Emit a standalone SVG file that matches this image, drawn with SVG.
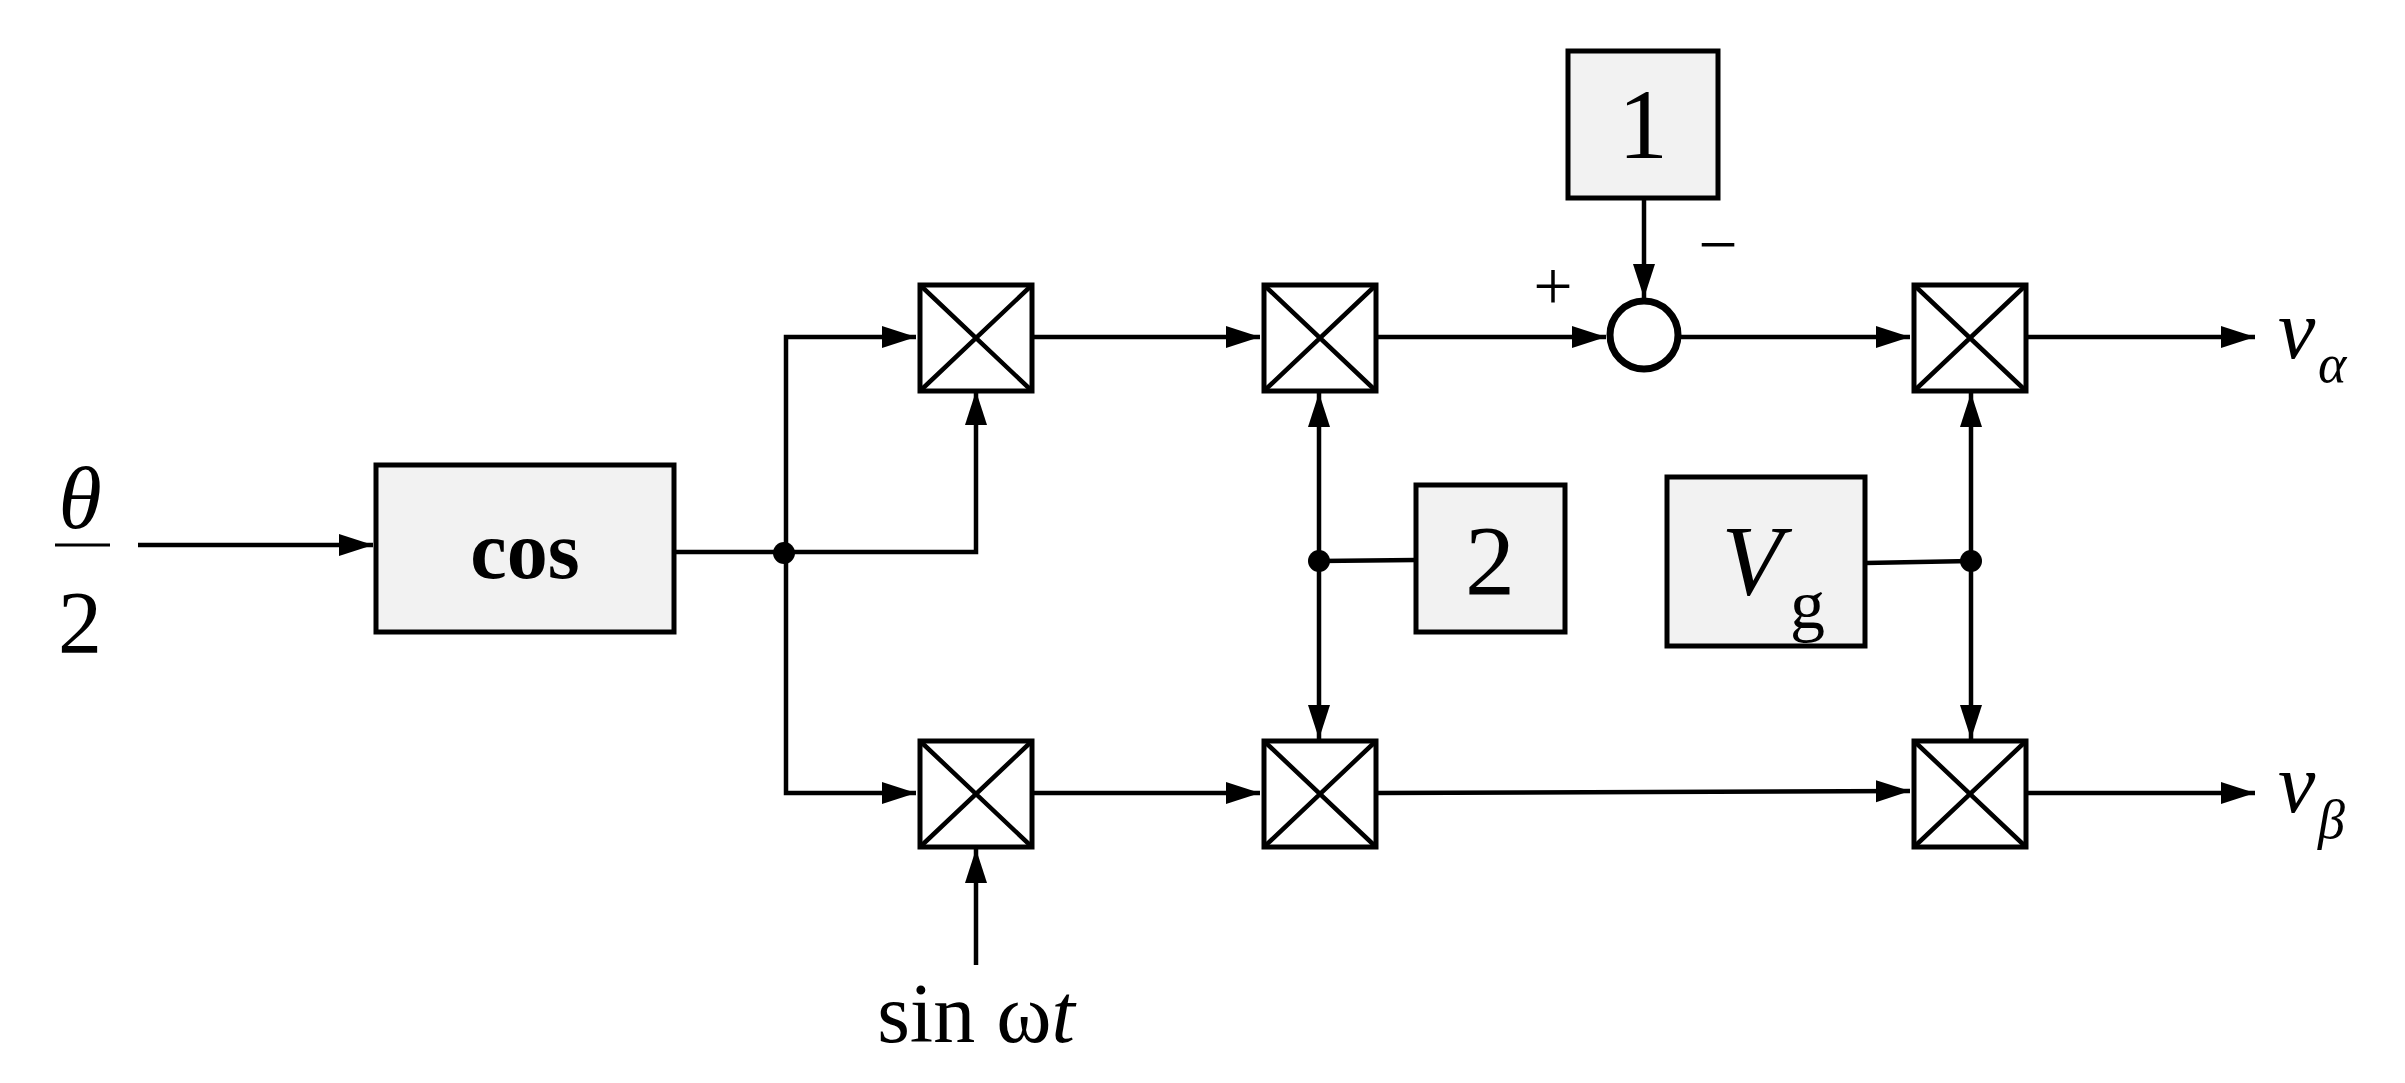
<svg xmlns="http://www.w3.org/2000/svg" width="2405" height="1083" viewBox="0 0 2405 1083">
<style>
.b{fill:#f2f2f2;stroke:#000;stroke-width:5}
.m{fill:#fff;stroke:#000;stroke-width:5}
.l{fill:none;stroke:#000;stroke-width:4.5}
.t{font-family:"Liberation Serif",serif;fill:#000}
</style>
<defs>
<marker id="ar" viewBox="0 0 34 24" refX="34" refY="12" markerWidth="34" markerHeight="24" markerUnits="userSpaceOnUse" orient="auto-start-reverse">
<path d="M0,1 L34,12 L0,23 z" fill="#000"/>
</marker>
</defs>
<g id="connectors">
<line class="l" x1="138" y1="545" x2="373" y2="545" marker-end="url(#ar)"/>
<polyline class="l" points="673,552 976,552 976,391" marker-end="url(#ar)"/>
<polyline class="l" points="916,337 786,337 786,793 916,793" marker-start="url(#ar)" marker-end="url(#ar)"/>
<line class="l" x1="1032" y1="337" x2="1260" y2="337" marker-end="url(#ar)"/>
<line class="l" x1="1376" y1="337" x2="1606" y2="337" marker-end="url(#ar)"/>
<line class="l" x1="1680" y1="337" x2="1910" y2="337" marker-end="url(#ar)"/>
<line class="l" x1="2026" y1="337" x2="2255" y2="337" marker-end="url(#ar)"/>
<line class="l" x1="1032" y1="793" x2="1260" y2="793" marker-end="url(#ar)"/>
<line class="l" x1="1376" y1="793" x2="1910" y2="791" marker-end="url(#ar)"/>
<line class="l" x1="2026" y1="793" x2="2255" y2="793" marker-end="url(#ar)"/>
<line class="l" x1="1319" y1="393" x2="1319" y2="739" marker-start="url(#ar)" marker-end="url(#ar)"/>
<line class="l" x1="1319" y1="561" x2="1416" y2="560"/>
<line class="l" x1="1971" y1="393" x2="1971" y2="739" marker-start="url(#ar)" marker-end="url(#ar)"/>
<line class="l" x1="1865" y1="563" x2="1971" y2="561"/>
<line class="l" x1="1644" y1="198" x2="1644" y2="298" marker-end="url(#ar)"/>
<line class="l" x1="976" y1="965" x2="976" y2="849" marker-end="url(#ar)"/>
<circle cx="784" cy="553" r="11"/>
<circle cx="1319" cy="561" r="11"/>
<circle cx="1971" cy="561" r="11"/>
</g>
<g id="theta"><text class="t" x="80" y="528" font-size="88" font-style="italic" text-anchor="middle">θ</text>
<line x1="55" y1="545" x2="110" y2="545" stroke="#000" stroke-width="3"/>
<text class="t" x="80" y="652" font-size="88" text-anchor="middle">2</text></g>
<g id="cos"><rect class="b" x="376" y="465" width="298" height="167"/><text class="t" x="525" y="578" font-size="82" font-weight="bold" text-anchor="middle">cos</text></g>
<g id="m1"><rect class="m" x="920" y="285" width="112" height="106"/><path class="l" d="M920,285L1032,391M1032,285L920,391"/></g>
<g id="m2"><rect class="m" x="1264" y="285" width="112" height="106"/><path class="l" d="M1264,285L1376,391M1376,285L1264,391"/></g>
<g id="m3"><rect class="m" x="1914" y="285" width="112" height="106"/><path class="l" d="M1914,285L2026,391M2026,285L1914,391"/></g>
<g id="m4"><rect class="m" x="920" y="741" width="112" height="106"/><path class="l" d="M920,741L1032,847M1032,741L920,847"/></g>
<g id="m5"><rect class="m" x="1264" y="741" width="112" height="106"/><path class="l" d="M1264,741L1376,847M1376,741L1264,847"/></g>
<g id="m6"><rect class="m" x="1914" y="741" width="112" height="106"/><path class="l" d="M1914,741L2026,847M2026,741L1914,847"/></g>
<g id="sum"><circle cx="1644" cy="335" r="34" fill="#fff" stroke="#000" stroke-width="7"/>
<text class="t" x="1553" y="310" font-size="70" text-anchor="middle">+</text>
<text class="t" x="1718" y="268" font-size="70" text-anchor="middle">−</text></g>
<g id="one"><rect class="b" x="1568" y="51" width="150" height="147"/><text class="t" x="1643" y="158" font-size="100" text-anchor="middle">1</text></g>
<g id="two"><rect class="b" x="1416" y="485" width="149" height="147"/><text class="t" x="1490" y="594" font-size="100" text-anchor="middle">2</text></g>
<g id="vg"><rect class="b" x="1667" y="477" width="198" height="169"/><text class="t" x="1752" y="594" font-size="100" font-style="italic" text-anchor="middle">V</text><text class="t" x="1790" y="628" font-size="70">g</text></g>
<g id="va"><text class="t" x="2278" y="358" font-size="84" font-style="italic">v</text><text class="t" x="2318" y="382" font-size="54" font-style="italic">α</text></g>
<g id="vb"><text class="t" x="2278" y="812" font-size="84" font-style="italic">v</text><text class="t" x="2318" y="838" font-size="54" font-style="italic">β</text></g>
<g id="sin"><text class="t" x="976" y="1042" font-size="84" text-anchor="middle">sin ω<tspan font-style="italic">t</tspan></text></g>
</svg>
